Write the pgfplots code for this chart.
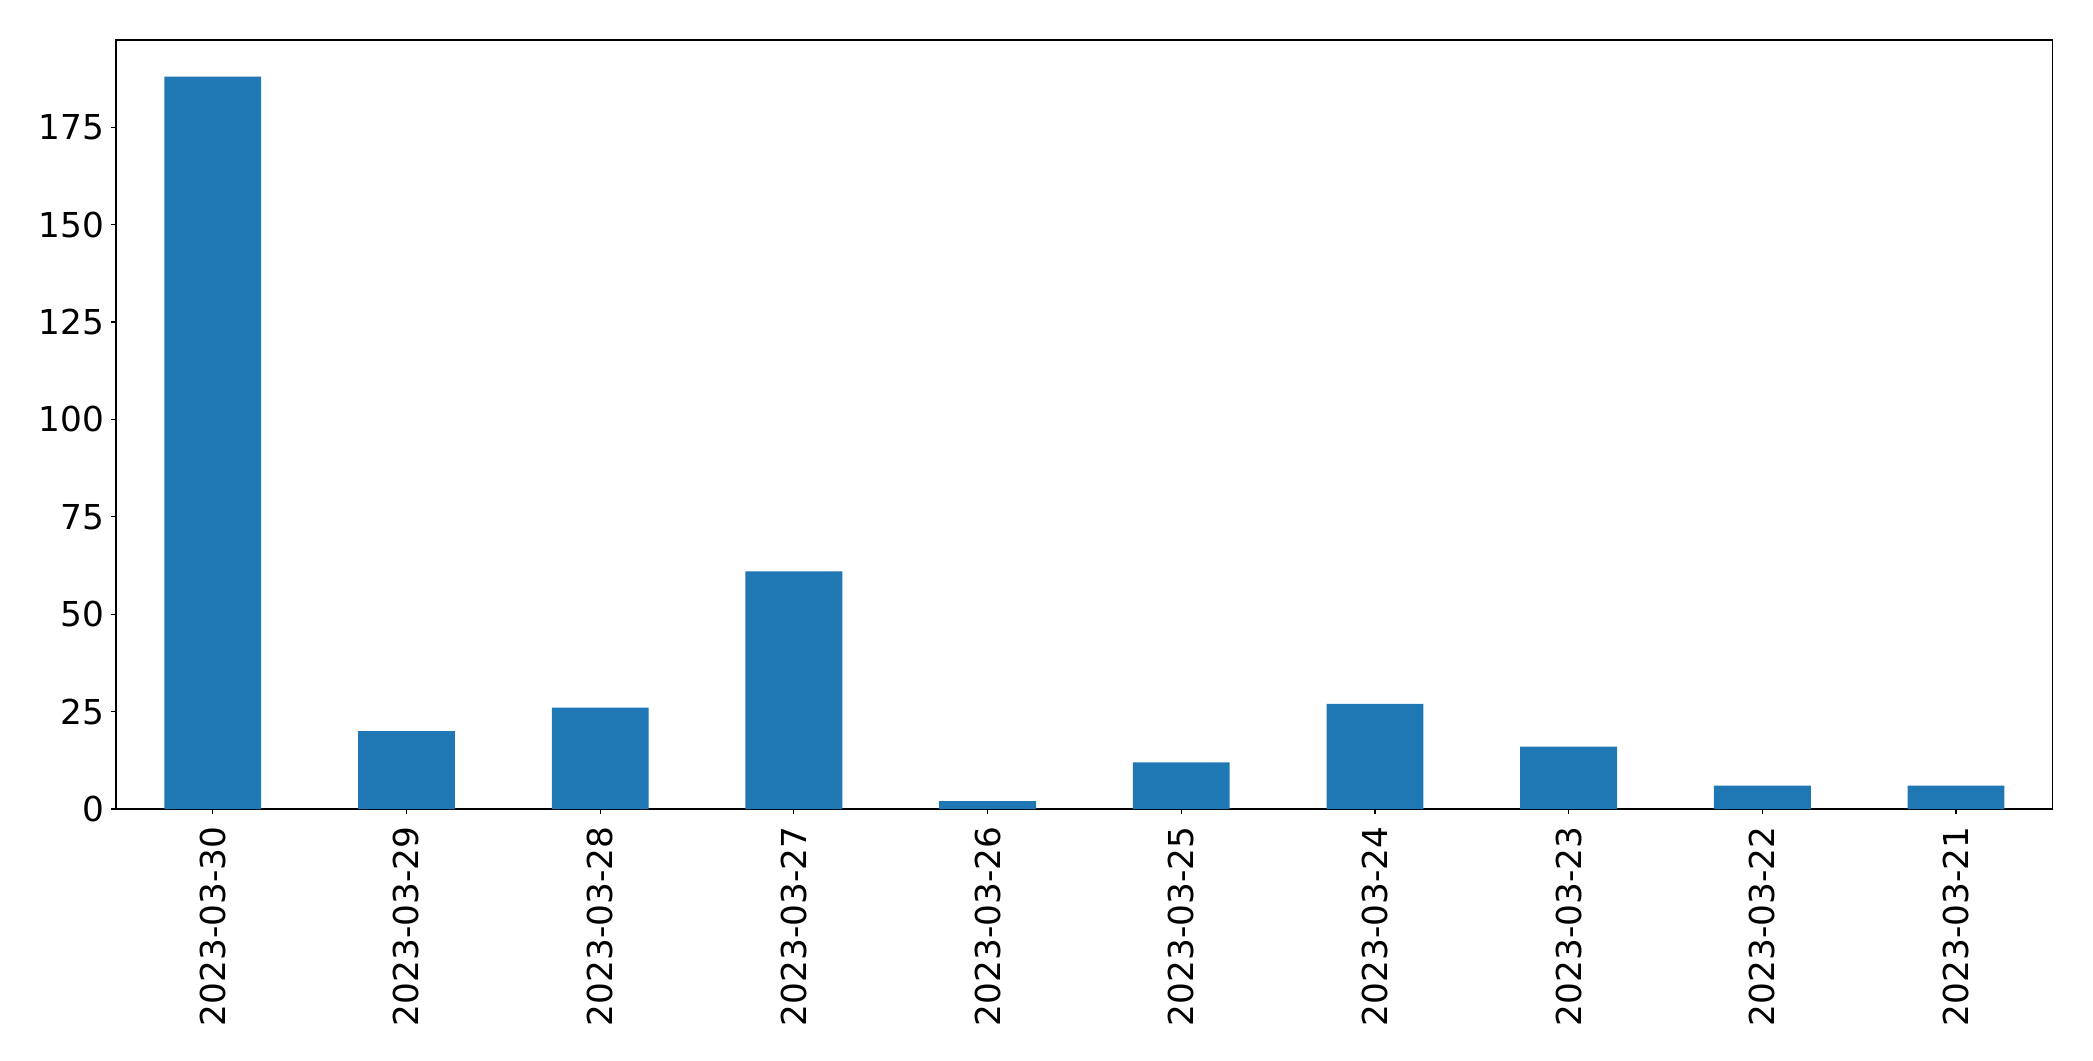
\documentclass[border=0pt]{standalone}
\usepackage{fontspec}
\setmainfont{DejaVu Sans}
\usepackage{pgfplots}
\pgfplotsset{compat=1.18}
\definecolor{mplblue}{HTML}{1F77B4}
\begin{document}
\begin{tikzpicture}
\useasboundingbox (-83.5bp,-181.4bp) rectangle (1423.5bp,582.5bp);
\begin{axis}[
    scale only axis, width=1394.6bp, height=553.7bp,
    ybar, bar width=0.5,
    xmin=-0.5, xmax=9.5, ymin=0, ymax=197.4,
    xtick=data,
    xticklabels={2023-03-30,2023-03-29,2023-03-28,2023-03-27,2023-03-26,2023-03-25,2023-03-24,2023-03-23,2023-03-22,2023-03-21},
    ytick={0,25,...,175},
    tick align=outside, major tick length=3.5bp,
    xtick pos=bottom, ytick pos=left,
    axis line style={line width=0.8bp},
    every tick/.style={black, line width=0.8bp},
    tick label style={font=\fontsize{24.8}{29.8}\selectfont},
    /pgf/number format/assume math mode=true,
    xticklabel style={rotate=90, anchor=east, inner sep=0pt},
    xticklabel shift=9bp,
    yticklabel style={inner sep=0pt},
    yticklabel shift=5bp,
]
\addplot [fill=mplblue, draw=none] coordinates {
(0,188) (1,20) (2,26) (3,61) (4,2) (5,12) (6,27) (7,16) (8,6) (9,6)
};
\end{axis}
\end{tikzpicture}
\end{document}
